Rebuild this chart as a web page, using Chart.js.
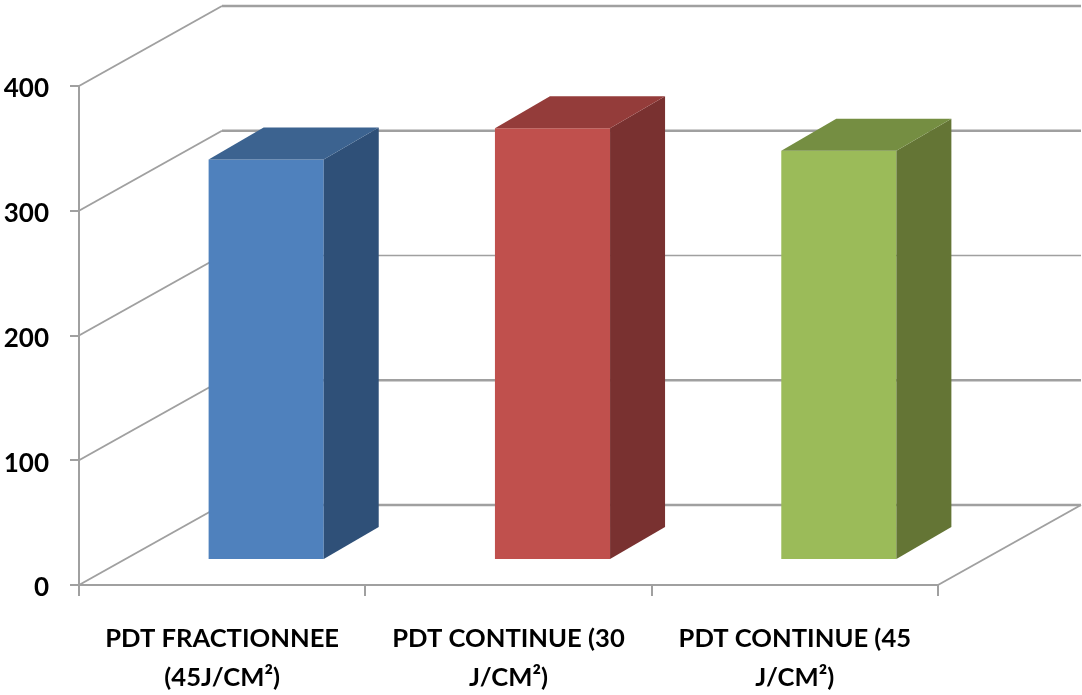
<!DOCTYPE html>
<html>
<head>
<meta charset="utf-8">
<title>PDT</title>
<script src="https://cdn.jsdelivr.net/npm/chart.js@4"></script>
<style>
  html, body { margin: 0; padding: 0; background: #fff; }
  canvas { display: block; filter: blur(0.6px); }
</style>
</head>
<body>
<canvas id="pdtChart" width="1082" height="695"></canvas>
<script>
// Donnees
const categories = [
  ['PDT FRACTIONNEE', '(45J/CM²)'],
  ['PDT CONTINUE (30', 'J/CM²)'],
  ['PDT CONTINUE (45', 'J/CM²)']
];
const values = [321, 346, 328];
const yMin = 0;
const yMax = 400;
const yStep = 100;

// Couleurs des faces
const frontColors = ['#4f81bd', '#c0504d', '#9bbb59'];
const sideColors = ['#2f5078', '#793130', '#647535'];
const topColors = ['#3c6390', '#943c3a', '#758e42'];
const gridColor = '#a0a0a0';
// epaisseur des lignes du mur, de 0 a 400
const wallWidths = [2.5, 2.5, 1.5, 2.5, 2.5];

// Profondeur du mur et des barres (effet 3D)
const wallDx = 143, wallDy = -80;
const barDx = 44, barDy = -25;
const depthDx = 55, depthDy = -32;

function poly(ctx, pts, color) {
  ctx.fillStyle = color;
  ctx.beginPath();
  pts.forEach((p, i) => i ? ctx.lineTo(p[0], p[1]) : ctx.moveTo(p[0], p[1]));
  ctx.closePath();
  ctx.fill();
}

const box3d = {
  id: 'box3d',
  beforeDatasetsDraw(chart) {
    const ctx = chart.ctx, x = chart.scales.x, y = chart.scales.y;
    ctx.save();
    ctx.strokeStyle = gridColor;
    y.ticks.forEach((t, i) => {
      const py = y.getPixelForValue(t.value);
      ctx.lineWidth = 2;
      ctx.beginPath();
      ctx.moveTo(x.left, py);
      ctx.lineTo(x.left + wallDx, py + wallDy);
      ctx.stroke();
      ctx.lineWidth = wallWidths[i];
      ctx.beginPath();
      ctx.moveTo(x.left + wallDx, py + wallDy);
      ctx.lineTo(x.right + wallDx, py + wallDy);
      ctx.stroke();
    });
    // bord droit du sol
    ctx.lineWidth = 2;
    ctx.beginPath();
    ctx.moveTo(x.right, y.bottom);
    ctx.lineTo(x.right + wallDx, y.bottom + wallDy);
    ctx.stroke();
    ctx.restore();
    // les barres sont posees au milieu du sol
    ctx.save();
    ctx.translate(barDx, barDy);
  },
  afterDatasetsDraw(chart) {
    const ctx = chart.ctx;
    ctx.restore();
    chart.getDatasetMeta(0).data.forEach((bar, i) => {
      const r = bar.x + bar.width / 2 + barDx;
      const l = bar.x - bar.width / 2 + barDx;
      const t = bar.y + barDy;
      const b = bar.base + barDy;
      poly(ctx, [[r, t], [r + depthDx, t + depthDy], [r + depthDx, b + depthDy], [r, b]], sideColors[i]);
      poly(ctx, [[l, t], [l + depthDx, t + depthDy], [r + depthDx, t + depthDy], [r, t]], topColors[i]);
    });
  }
};

const myChart = new Chart(document.getElementById('pdtChart'), {
  type: 'bar',
  data: {
    labels: categories,
    datasets: [{
      data: values,
      backgroundColor: frontColors,
      borderWidth: 0,
      barPercentage: 0.402,
      categoryPercentage: 1
    }]
  },
  options: {
    responsive: false,
    animation: false,
    layout: { padding: { top: 86, right: 144, left: 0, bottom: 0 } },
    plugins: { legend: { display: false }, tooltip: { enabled: false } },
    scales: {
      x: {
        afterFit(scale) { scale.height = 110; },
        grid: { drawOnChartArea: false, color: gridColor, lineWidth: 2, tickLength: 11 },
        border: { color: gridColor, width: 2 },
        ticks: {
          color: '#000',
          maxRotation: 0,
          autoSkip: false,
          padding: 24,
          font: { family: 'Lato', weight: 'bold', size: 25.6, lineHeight: 1.5 }
        }
      },
      y: {
        min: yMin,
        max: yMax,
        afterFit(scale) {
          scale.width = 79;
          // les libelles sont un peu sous leur graduation
          if (!scale.shifted) {
            const drawLabels = scale.drawLabels.bind(scale);
            scale.drawLabels = area => {
              scale.ctx.save();
              scale.ctx.translate(0, 3);
              drawLabels(area);
              scale.ctx.restore();
            };
            scale.shifted = true;
          }
        },
        grid: { drawOnChartArea: false, color: gridColor, lineWidth: 2, tickLength: 9 },
        border: { color: gridColor, width: 2 },
        ticks: {
          stepSize: yStep,
          color: '#000',
          padding: 21,
          font: { family: 'Lato', weight: 'bold', size: 26 }
        }
      }
    }
  },
  plugins: [box3d]
});
</script>
</body>
</html>
